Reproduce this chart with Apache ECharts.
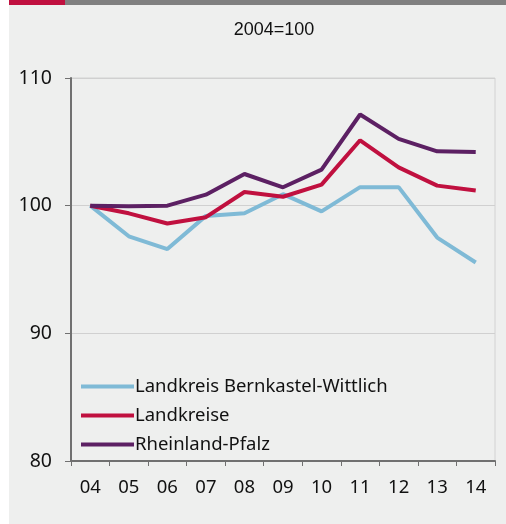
<!DOCTYPE html>
<html>
<head>
<meta charset="utf-8">
<script src="https://cdn.jsdelivr.net/npm/echarts@6/dist/echarts.min.js"></script>
<style>
html, body { margin: 0; padding: 0; background: #fff; }
#main { width: 506px; height: 524px; }
</style>
</head>
<body>
<div id="main"></div>
<script>
var years = ['04', '05', '06', '07', '08', '09', '10', '11', '12', '13', '14'];
var bernkastel = [100, 97.6, 96.6, 99.2, 99.4, 100.9, 99.55, 101.45, 101.45, 97.5, 95.55];
var landkreise = [100, 99.4, 98.6, 99.1, 101.07, 100.7, 101.65, 105.12, 103.0, 101.57, 101.18];
var rlp = [100, 99.95, 100, 100.86, 102.48, 101.44, 102.82, 107.14, 105.23, 104.26, 104.2];

var labelFont = '"Noto Sans", "Open Sans", sans-serif';

var myChart = echarts.init(document.getElementById('main'));

function mkSeries(name, data, color) {
	return {
		name: name,
		type: 'line',
		data: data,
		symbol: 'none',
		lineStyle: { width: 4, color: color },
		itemStyle: { color: color }
	};
}

option = {
	animation: false,
	graphic: [
		{ type: 'rect', shape: { x: 9, y: 5, width: 497, height: 519 }, style: { fill: '#eeefee' }, z: -10 },
		{ type: 'rect', shape: { x: 9, y: 0, width: 56, height: 5 }, style: { fill: '#c0103f' }, z: -10 },
		{ type: 'rect', shape: { x: 65, y: 0, width: 441, height: 5 }, style: { fill: '#808080' }, z: -10 }
	],
	title: {
		text: '2004=100',
		left: 269,
		top: 16,
		textAlign: 'center',
		textStyle: { fontFamily: '"Liberation Sans", Arial, sans-serif', fontSize: 18, fontWeight: 'normal', color: '#111' }
	},
	legend: {
		orient: 'vertical',
		left: 76,
		top: 372,
		itemWidth: 53,
		itemHeight: 4,
		itemGap: 10,
		icon: 'rect',
		textStyle: { fontFamily: labelFont, fontSize: 18.5, color: '#111', padding: [0, 0, 0, -4] },
		data: ['Landkreis Bernkastel-Wittlich', 'Landkreise', 'Rheinland-Pfalz']
	},
	grid: {
		left: 71, right: 11, top: 78, bottom: 63,
		show: true, borderColor: '#d2d2d2', borderWidth: 1
	},
	xAxis: {
		type: 'category',
		data: years,
		boundaryGap: true,
		axisLine: { lineStyle: { color: '#707070', width: 2 } },
		axisTick: { show: true, length: 5, lineStyle: { color: '#707070', width: 1 } },
		axisLabel: { fontFamily: labelFont, fontSize: 18.5, color: '#111', margin: 17 }
	},
	yAxis: {
		type: 'value',
		min: 80, max: 110, interval: 10,
		axisLine: { show: true, lineStyle: { color: '#707070', width: 2 } },
		axisTick: { show: true, length: 6, lineStyle: { color: '#707070', width: 1 } },
		axisLabel: { fontFamily: labelFont, fontSize: 19.5, color: '#111', margin: 19 },
		splitLine: { lineStyle: { color: '#d0d0d0', width: 1 } }
	},
	series: [
		mkSeries('Landkreis Bernkastel-Wittlich', bernkastel, '#7fbad6'),
		mkSeries('Landkreise', landkreise, '#c0103f'),
		mkSeries('Rheinland-Pfalz', rlp, '#5c2063')
	]
};
myChart.setOption(option);
</script>
</body>
</html>
